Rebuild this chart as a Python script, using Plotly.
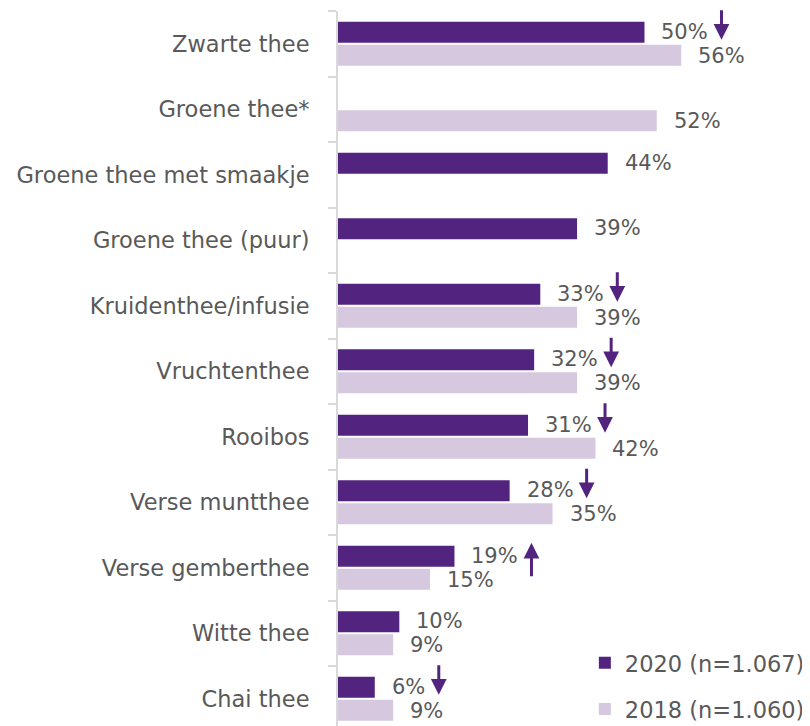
import plotly.graph_objects as go

categories = ["Zwarte thee", "Groene thee*", "Groene thee met smaakje", "Groene thee (puur)",
              "Kruidenthee/infusie", "Vruchtenthee", "Rooibos", "Verse muntthee",
              "Verse gemberthee", "Witte thee", "Chai thee"]
values_2020 = [50, None, 44, 39, 33, 32, 31, 28, 19, 10, 6]
values_2018 = [56, 52, None, None, 39, 39, 42, 35, 15, 9, 9]
# significance arrows for 2020 vs 2018: -1 down, 1 up, 0 none
signif_2020 = [-1, 0, 0, 0, -1, -1, -1, -1, 1, 0, -1]
name_2020 = "2020 (n=1.067)"
name_2018 = "2018 (n=1.060)"

DARK = "#52247f"
LIGHT = "#d5c8df"
GREY = "#595959"
FONT = "DejaVu Sans"

fig = go.Figure()
fig.add_trace(go.Bar(y=categories, x=values_2020, orientation="h", name=name_2020,
                     marker=dict(color=DARK, line=dict(width=0)), legendgroup="a"))
fig.add_trace(go.Bar(y=categories, x=values_2018, orientation="h", name=name_2018,
                     marker=dict(color=LIGHT, line=dict(width=0)), legendgroup="b"))

annotations = []
for cat, v, s in zip(categories, values_2020, signif_2020):
    if v is None:
        continue
    label = f"{v}%"
    annotations.append(dict(x=v, y=cat, xref="x", yref="y", text=label, showarrow=False,
                            xanchor="left", yanchor="middle", xshift=15, yshift=12,
                            font=dict(family=FONT, size=21, color=GREY)))
    if s != 0:
        shift = 16 + (13 * (len(label) - 1) + 18) + 17
        if s < 0:
            annotations.append(dict(x=v, y=cat, xref="x", yref="y", text="", showarrow=True,
                                    ax=0, ay=-31, xshift=shift, yshift=4,
                                    arrowhead=2, arrowsize=1.05, arrowwidth=3, arrowcolor=DARK,
                                    standoff=0))
        else:
            annotations.append(dict(x=v, y=cat, xref="x", yref="y", text="", showarrow=True,
                                    ax=0, ay=35, xshift=shift, yshift=25,
                                    arrowhead=2, arrowsize=1.05, arrowwidth=3, arrowcolor=DARK,
                                    standoff=0))
for cat, v in zip(categories, values_2018):
    if v is None:
        continue
    annotations.append(dict(x=v, y=cat, xref="x", yref="y", text=f"{v}%", showarrow=False,
                            xanchor="left", yanchor="middle", xshift=15, yshift=-12,
                            font=dict(family=FONT, size=21, color=GREY)))

fig.update_layout(
    width=802, height=718,
    margin=dict(l=330, r=0, t=3, b=0, autoexpand=False),
    paper_bgcolor="white", plot_bgcolor="white",
    barmode="group", bargap=0.3, bargroupgap=0.08,
    font=dict(family=FONT, size=20, color=GREY),
    showlegend=True,
    legend=dict(x=0.523, y=0.118, xanchor="left", yanchor="top",
                traceorder="grouped", tracegroupgap=14,
                font=dict(family=FONT, size=22.5, color=GREY),
                bgcolor="rgba(0,0,0,0)"),
    annotations=annotations,
)
fig.update_xaxes(range=[0, 77], showgrid=False, zeroline=False, showline=False,
                 showticklabels=False, ticks="", automargin=False)
fig.update_yaxes(type="category", categoryorder="array", categoryarray=categories,
                 range=[10.416, -0.5], showgrid=False, zeroline=False, automargin=False,
                 showline=True, linecolor="#d9d9d9", linewidth=2,
                 ticks="outside", tickson="boundaries", ticklen=8, tickcolor="#d9d9d9",
                 tickwidth=2, ticklabelstandoff=22,
                 tickfont=dict(family=FONT, size=22.5, color=GREY))

fig.write_html("out.html")
